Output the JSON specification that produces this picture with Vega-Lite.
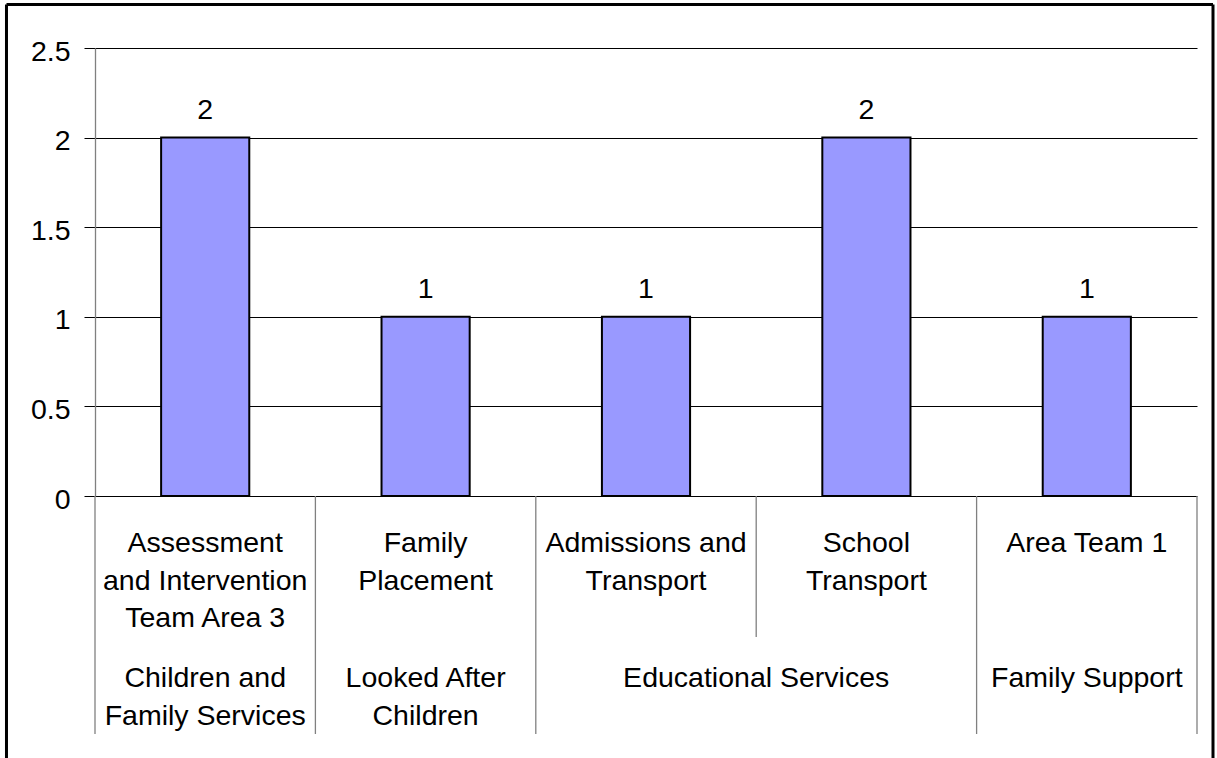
{
  "$schema": "https://vega.github.io/schema/vega-lite/v6.json",
  "width": 1102,
  "height": 448,
  "autosize": {"type": "none"},
  "padding": {"left": 95, "top": 48, "right": 20, "bottom": 262},
  "background": "white",
  "config": {
    "view": {"stroke": null},
    "font": "Liberation Sans",
    "text": {"font": "Liberation Sans", "fontSize": 28.5, "color": "black"}
  },
  "data": {
    "values": [
      {"team": "Assessment and Intervention Team Area 3", "label": "Assessment\nand Intervention\nTeam Area 3", "group": "Children and Family Services", "groupLabel": "Children and\nFamily Services", "count": 2},
      {"team": "Family Placement", "label": "Family\nPlacement", "group": "Looked After Children", "groupLabel": "Looked After\nChildren", "count": 1},
      {"team": "Admissions and Transport", "label": "Admissions and\nTransport", "group": "Educational Services", "groupLabel": "Educational Services", "count": 1},
      {"team": "School Transport", "label": "School\nTransport", "group": "Educational Services", "groupLabel": "Educational Services", "count": 2},
      {"team": "Area Team 1", "label": "Area Team 1", "group": "Family Support", "groupLabel": "Family Support", "count": 1}
    ]
  },
  "transform": [
    {"window": [{"op": "lag", "field": "group", "as": "prevGroup"}, {"op": "lead", "field": "group", "as": "nextGroup"}]},
    {"joinaggregate": [{"op": "count", "as": "groupSize"}], "groupby": ["group"]},
    {"window": [{"op": "row_number", "as": "inGroup"}], "groupby": ["group"]}
  ],
  "encoding": {
    "x": {"field": "team", "type": "nominal", "sort": null, "axis": null,
          "scale": {"paddingInner": 0.6, "paddingOuter": 0.3}}
  },
  "layer": [
    {
      "mark": {"type": "bar", "fill": "#9999FF", "stroke": "black", "strokeWidth": 2},
      "encoding": {
        "y": {"field": "count", "type": "quantitative",
              "scale": {"domain": [0, 2.5], "nice": false, "zero": true},
              "axis": {"values": [0, 0.5, 1, 1.5, 2, 2.5], "format": "~g", "title": null, "grid": true,
                       "gridColor": "black", "gridWidth": 1, "gridOpacity": 1,
                       "tickColor": "black", "tickSize": 11, "tickWidth": 1,
                       "domainColor": "#808080", "domainWidth": 1.3,
                       "labelFont": "Liberation Sans", "labelFontSize": 28.5, "labelColor": "black",
                       "labelPadding": 14, "labelOffset": 3}}
      }
    },
    {
      "mark": {"type": "text", "baseline": "alphabetic", "dy": -19},
      "encoding": {
        "y": {"field": "count", "type": "quantitative"},
        "text": {"field": "count", "type": "quantitative"}
      }
    },
    {
      "mark": {"type": "text", "baseline": "alphabetic", "align": "center", "dy": 56, "lineBreak": "\n", "lineHeight": 37.5},
      "encoding": {
        "y": {"datum": 0},
        "text": {"field": "label"}
      }
    },
    {
      "transform": [{"filter": "datum.groupSize == 1"}],
      "mark": {"type": "text", "baseline": "alphabetic", "align": "center", "dy": 191, "lineBreak": "\n", "lineHeight": 38.3},
      "encoding": {
        "y": {"datum": 0},
        "text": {"field": "groupLabel"}
      }
    },
    {
      "transform": [{"filter": "datum.groupSize == 2 && datum.inGroup == 2"}],
      "mark": {"type": "text", "baseline": "alphabetic", "align": "center", "dy": 191, "lineBreak": "\n", "lineHeight": 38.3},
      "encoding": {
        "x": {"field": "team", "type": "nominal", "sort": null, "bandPosition": -0.75},
        "y": {"datum": 0},
        "text": {"field": "groupLabel"}
      }
    },
    {
      "transform": [{"filter": "datum.prevGroup !== datum.group"}],
      "mark": {"type": "rule", "color": "#808080", "strokeWidth": 1.3},
      "encoding": {
        "x": {"field": "team", "type": "nominal", "sort": null, "bandPosition": -0.75},
        "y": {"datum": 0},
        "y2": {"datum": -1.328}
      }
    },
    {
      "transform": [{"filter": "datum.prevGroup === datum.group"}],
      "mark": {"type": "rule", "color": "#808080", "strokeWidth": 1.3},
      "encoding": {
        "x": {"field": "team", "type": "nominal", "sort": null, "bandPosition": -0.75},
        "y": {"datum": 0},
        "y2": {"datum": -0.787}
      }
    },
    {
      "transform": [{"filter": "datum.nextGroup == null"}],
      "mark": {"type": "rule", "color": "#808080", "strokeWidth": 1.3},
      "encoding": {
        "x": {"field": "team", "type": "nominal", "sort": null, "bandPosition": 1.75},
        "y": {"datum": 0},
        "y2": {"datum": -1.328}
      }
    },
    {
      "transform": [{"filter": "datum.prevGroup == null"}],
      "mark": {"type": "rule", "color": "black", "strokeWidth": 3},
      "encoding": {
        "x": {"field": "team", "type": "nominal", "sort": null, "bandPosition": -1.754},
        "y": {"datum": 2.743},
        "y2": {"datum": -1.6}
      }
    },
    {
      "transform": [{"filter": "datum.nextGroup == null"}],
      "mark": {"type": "rule", "color": "black", "strokeWidth": 3},
      "encoding": {
        "x": {"field": "team", "type": "nominal", "sort": null, "bandPosition": 1.9315},
        "y": {"datum": 2.743},
        "y2": {"datum": -1.6}
      }
    },
    {
      "transform": [{"filter": "datum.prevGroup == null"}],
      "mark": {"type": "rule", "color": "black", "strokeWidth": 3},
      "encoding": {
        "x": {"field": "team", "type": "nominal", "sort": null, "bandPosition": -1.754},
        "x2": {"datum": "Area Team 1", "bandPosition": 1.9315},
        "y": {"datum": 2.743}
      }
    }
  ]
}
